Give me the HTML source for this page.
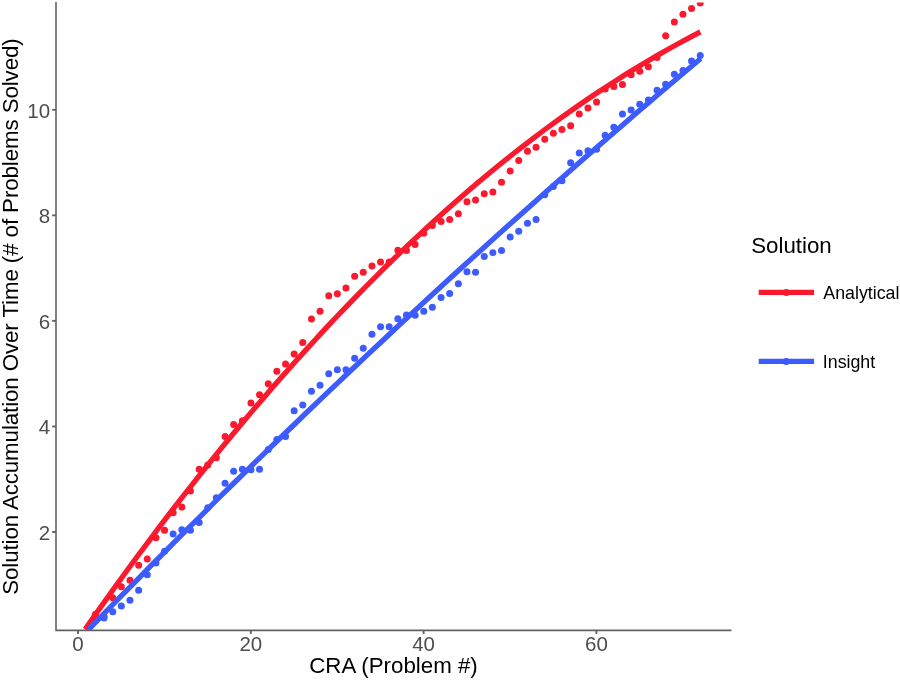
<!DOCTYPE html><html><head><meta charset="utf-8"><title>Solution Accumulation Over Time</title>
<style>html,body{margin:0;padding:0;background:#fff}svg{display:block;will-change:transform;opacity:.999;filter:blur(0.45px)}text{font-family:"Liberation Sans",Arial,sans-serif}</style></head><body>
<svg width="900" height="681" viewBox="0 0 900 681">
<rect width="900" height="681" fill="#fff"/>
<defs><clipPath id="pa"><rect x="56" y="2.4" width="676" height="628"/></clipPath></defs>
<g clip-path="url(#pa)"><g transform="translate(0.15,0.35)">
<g fill="#fb1a2d"><circle cx="86.6" cy="640.0" r="3.5"/><circle cx="95.3" cy="614.0" r="3.5"/><circle cx="103.9" cy="616.0" r="3.5"/><circle cx="112.6" cy="597.5" r="3.5"/><circle cx="121.2" cy="586.5" r="3.5"/><circle cx="129.8" cy="579.8" r="3.5"/><circle cx="138.5" cy="564.8" r="3.5"/><circle cx="147.1" cy="558.7" r="3.5"/><circle cx="155.8" cy="537.5" r="3.5"/><circle cx="164.4" cy="529.8" r="3.5"/><circle cx="173.0" cy="512.5" r="3.5"/><circle cx="181.7" cy="506.7" r="3.5"/><circle cx="190.3" cy="490.6" r="3.5"/><circle cx="199.0" cy="468.8" r="3.5"/><circle cx="207.6" cy="464.6" r="3.5"/><circle cx="216.2" cy="457.5" r="3.5"/><circle cx="224.9" cy="436.2" r="3.5"/><circle cx="233.5" cy="424.2" r="3.5"/><circle cx="242.2" cy="420.4" r="3.5"/><circle cx="250.8" cy="402.7" r="3.5"/><circle cx="259.4" cy="394.4" r="3.5"/><circle cx="268.1" cy="383.3" r="3.5"/><circle cx="276.7" cy="371.0" r="3.5"/><circle cx="285.4" cy="363.7" r="3.5"/><circle cx="294.0" cy="353.7" r="3.5"/><circle cx="302.6" cy="342.1" r="3.5"/><circle cx="311.3" cy="318.7" r="3.5"/><circle cx="319.9" cy="310.8" r="3.5"/><circle cx="328.6" cy="295.4" r="3.5"/><circle cx="337.2" cy="293.5" r="3.5"/><circle cx="345.8" cy="287.7" r="3.5"/><circle cx="354.5" cy="275.8" r="3.5"/><circle cx="363.1" cy="271.9" r="3.5"/><circle cx="371.8" cy="265.6" r="3.5"/><circle cx="380.4" cy="261.7" r="3.5"/><circle cx="389.0" cy="261.7" r="3.5"/><circle cx="397.7" cy="249.8" r="3.5"/><circle cx="406.3" cy="250.2" r="3.5"/><circle cx="415.0" cy="244.2" r="3.5"/><circle cx="423.6" cy="232.9" r="3.5"/><circle cx="432.2" cy="225.2" r="3.5"/><circle cx="440.9" cy="221.2" r="3.5"/><circle cx="449.5" cy="219.2" r="3.5"/><circle cx="458.2" cy="213.3" r="3.5"/><circle cx="466.8" cy="201.5" r="3.5"/><circle cx="475.4" cy="199.6" r="3.5"/><circle cx="484.1" cy="193.4" r="3.5"/><circle cx="492.7" cy="191.7" r="3.5"/><circle cx="501.4" cy="181.9" r="3.5"/><circle cx="510.0" cy="170.6" r="3.5"/><circle cx="518.6" cy="160.2" r="3.5"/><circle cx="527.3" cy="150.8" r="3.5"/><circle cx="535.9" cy="146.9" r="3.5"/><circle cx="544.6" cy="138.8" r="3.5"/><circle cx="553.2" cy="132.9" r="3.5"/><circle cx="561.8" cy="129.2" r="3.5"/><circle cx="570.5" cy="125.4" r="3.5"/><circle cx="579.1" cy="113.6" r="3.5"/><circle cx="587.8" cy="107.7" r="3.5"/><circle cx="596.4" cy="101.6" r="3.5"/><circle cx="605.0" cy="88.6" r="3.5"/><circle cx="613.7" cy="86.2" r="3.5"/><circle cx="622.3" cy="84.1" r="3.5"/><circle cx="631.0" cy="74.4" r="3.5"/><circle cx="639.6" cy="70.9" r="3.5"/><circle cx="648.2" cy="66.5" r="3.5"/><circle cx="656.9" cy="57.1" r="3.5"/><circle cx="665.5" cy="35.4" r="3.5"/><circle cx="674.2" cy="21.7" r="3.5"/><circle cx="682.8" cy="14.0" r="3.5"/><circle cx="691.4" cy="8.1" r="3.5"/><circle cx="700.1" cy="2.6" r="3.5"/></g>
<g fill="#3c5cff"><circle cx="86.6" cy="640.0" r="3.5"/><circle cx="95.3" cy="620.5" r="3.5"/><circle cx="103.9" cy="617.6" r="3.5"/><circle cx="112.6" cy="611.5" r="3.5"/><circle cx="121.2" cy="605.6" r="3.5"/><circle cx="129.8" cy="599.8" r="3.5"/><circle cx="138.5" cy="589.8" r="3.5"/><circle cx="147.1" cy="574.4" r="3.5"/><circle cx="155.8" cy="562.7" r="3.5"/><circle cx="164.4" cy="551.0" r="3.5"/><circle cx="173.0" cy="533.7" r="3.5"/><circle cx="181.7" cy="529.4" r="3.5"/><circle cx="190.3" cy="529.8" r="3.5"/><circle cx="199.0" cy="522.1" r="3.5"/><circle cx="207.6" cy="507.3" r="3.5"/><circle cx="216.2" cy="497.3" r="3.5"/><circle cx="224.9" cy="482.9" r="3.5"/><circle cx="233.5" cy="470.8" r="3.5"/><circle cx="242.2" cy="468.8" r="3.5"/><circle cx="250.8" cy="469.4" r="3.5"/><circle cx="259.4" cy="469.0" r="3.5"/><circle cx="268.1" cy="449.2" r="3.5"/><circle cx="276.7" cy="439.2" r="3.5"/><circle cx="285.4" cy="436.2" r="3.5"/><circle cx="294.0" cy="410.4" r="3.5"/><circle cx="302.6" cy="404.6" r="3.5"/><circle cx="311.3" cy="390.9" r="3.5"/><circle cx="319.9" cy="384.9" r="3.5"/><circle cx="328.6" cy="373.5" r="3.5"/><circle cx="337.2" cy="369.4" r="3.5"/><circle cx="345.8" cy="369.4" r="3.5"/><circle cx="354.5" cy="357.9" r="3.5"/><circle cx="363.1" cy="347.9" r="3.5"/><circle cx="371.8" cy="334.0" r="3.5"/><circle cx="380.4" cy="326.3" r="3.5"/><circle cx="389.0" cy="326.3" r="3.5"/><circle cx="397.7" cy="318.5" r="3.5"/><circle cx="406.3" cy="314.6" r="3.5"/><circle cx="415.0" cy="315.0" r="3.5"/><circle cx="423.6" cy="311.0" r="3.5"/><circle cx="432.2" cy="306.9" r="3.5"/><circle cx="440.9" cy="297.2" r="3.5"/><circle cx="449.5" cy="293.1" r="3.5"/><circle cx="458.2" cy="283.5" r="3.5"/><circle cx="466.8" cy="271.5" r="3.5"/><circle cx="475.4" cy="271.9" r="3.5"/><circle cx="484.1" cy="256.2" r="3.5"/><circle cx="492.7" cy="252.3" r="3.5"/><circle cx="501.4" cy="250.2" r="3.5"/><circle cx="510.0" cy="236.6" r="3.5"/><circle cx="518.6" cy="230.9" r="3.5"/><circle cx="527.3" cy="223.0" r="3.5"/><circle cx="535.9" cy="219.1" r="3.5"/><circle cx="544.6" cy="194.3" r="3.5"/><circle cx="553.2" cy="186.2" r="3.5"/><circle cx="561.8" cy="180.3" r="3.5"/><circle cx="570.5" cy="162.3" r="3.5"/><circle cx="579.1" cy="152.7" r="3.5"/><circle cx="587.8" cy="150.4" r="3.5"/><circle cx="596.4" cy="148.8" r="3.5"/><circle cx="605.0" cy="135.0" r="3.5"/><circle cx="613.7" cy="126.9" r="3.5"/><circle cx="622.3" cy="113.6" r="3.5"/><circle cx="631.0" cy="109.6" r="3.5"/><circle cx="639.6" cy="103.8" r="3.5"/><circle cx="648.2" cy="99.7" r="3.5"/><circle cx="656.9" cy="89.8" r="3.5"/><circle cx="665.5" cy="84.0" r="3.5"/><circle cx="674.2" cy="74.0" r="3.5"/><circle cx="682.8" cy="70.2" r="3.5"/><circle cx="691.4" cy="60.6" r="3.5"/><circle cx="700.1" cy="55.2" r="3.5"/></g>
<path d="M85.0,628.9 L95.4,614.0 L105.9,599.3 L116.3,584.7 L126.7,570.4 L137.1,556.2 L147.6,542.2 L158.0,528.3 L168.4,514.6 L178.8,501.1 L189.3,487.7 L199.7,474.5 L210.1,461.5 L220.6,448.6 L231.0,435.9 L241.4,423.4 L251.8,411.0 L262.3,398.8 L272.7,386.7 L283.1,374.8 L293.5,363.1 L304.0,351.5 L314.4,340.1 L324.8,328.8 L335.3,317.7 L345.7,306.8 L356.1,296.0 L366.5,285.4 L377.0,274.9 L387.4,264.6 L397.8,254.5 L408.2,244.6 L418.7,234.8 L429.1,225.1 L439.5,215.6 L449.9,206.3 L460.4,197.2 L470.8,188.2 L481.2,179.4 L491.7,170.7 L502.1,162.2 L512.5,153.9 L522.9,145.7 L533.4,137.7 L543.8,129.9 L554.2,122.2 L564.6,114.7 L575.1,107.4 L585.5,100.2 L595.9,93.2 L606.4,86.3 L616.8,79.6 L627.2,73.0 L637.6,66.7 L648.1,60.4 L658.5,54.3 L668.9,48.4 L679.3,42.7 L689.8,37.0 L700.2,31.6" fill="none" stroke="#fb1a2d" stroke-width="5.3"/>
<path d="M88.3,629.3 L98.7,618.6 L109.1,607.9 L119.4,597.3 L129.8,586.7 L140.2,576.2 L150.6,565.6 L160.9,555.2 L171.3,544.7 L181.7,534.3 L192.1,524.0 L202.5,513.7 L212.8,503.4 L223.2,493.1 L233.6,482.9 L244.0,472.7 L254.3,462.6 L264.7,452.5 L275.1,442.4 L285.5,432.4 L295.9,422.4 L306.2,412.4 L316.6,402.5 L327.0,392.6 L337.4,382.7 L347.7,372.9 L358.1,363.1 L368.5,353.3 L378.9,343.6 L389.3,333.9 L399.6,324.2 L410.0,314.6 L420.4,305.0 L430.8,295.4 L441.2,285.9 L451.5,276.4 L461.9,266.9 L472.3,257.5 L482.7,248.1 L493.0,238.8 L503.4,229.4 L513.8,220.1 L524.2,210.9 L534.6,201.6 L544.9,192.4 L555.3,183.2 L565.7,174.1 L576.1,165.0 L586.4,155.9 L596.8,146.9 L607.2,137.9 L617.6,128.9 L628.0,119.9 L638.3,111.0 L648.7,102.1 L659.1,93.2 L669.5,84.4 L679.8,75.6 L690.2,66.8 L700.6,58.1" fill="none" stroke="#3c5cff" stroke-width="5.3"/>
</g></g>
<g stroke="#626262" stroke-width="1.6" fill="none">
<path d="M56,2 V630.4 H731.5"/>
<path d="M52.2,531.95 H56" stroke-width="1.9"/>
<path d="M52.2,426.45 H56" stroke-width="1.9"/>
<path d="M52.2,320.85 H56" stroke-width="1.9"/>
<path d="M52.2,215.35 H56" stroke-width="1.9"/>
<path d="M52.2,109.85 H56" stroke-width="1.9"/>
<path d="M78.0,630.4 V633.9" stroke-width="1.9"/>
<path d="M250.8,630.4 V633.9" stroke-width="1.9"/>
<path d="M423.6,630.4 V633.9" stroke-width="1.9"/>
<path d="M596.4,630.4 V633.9" stroke-width="1.9"/>
</g>
<g fill="#4d4d4d" font-size="20.5">
<text x="50.1" y="539.6" text-anchor="end">2</text>
<text x="50.1" y="434.1" text-anchor="end">4</text>
<text x="50.1" y="328.5" text-anchor="end">6</text>
<text x="50.1" y="223.0" text-anchor="end">8</text>
<text x="50.1" y="117.5" text-anchor="end">10</text>
<text x="78.0" y="651.2" text-anchor="middle">0</text>
<text x="250.8" y="651.2" text-anchor="middle">20</text>
<text x="423.6" y="651.2" text-anchor="middle">40</text>
<text x="596.4" y="651.2" text-anchor="middle">60</text>
</g>
<text x="393.5" y="672.9" text-anchor="middle" font-size="22.3" fill="#000">CRA (Problem #)</text>
<text transform="translate(18.1,316.6) rotate(-90)" text-anchor="middle" font-size="22.3" letter-spacing="-0.092" fill="#000">Solution Accumulation Over Time (# of Problems Solved)</text>
<text x="751.2" y="252.8" font-size="22.3" fill="#000">Solution</text>
<path d="M758.7,292.4 H814.1" stroke="#fb1a2d" stroke-width="5.3" fill="none"/>
<circle cx="786.3" cy="292.4" r="3.5" fill="#fb1a2d"/>
<text x="823.3" y="298.6" font-size="17.8" fill="#000">Analytical</text>
<path d="M758.7,361.4 H814.1" stroke="#3c5cff" stroke-width="5.3" fill="none"/>
<circle cx="786.3" cy="361.4" r="3.5" fill="#3c5cff"/>
<text x="822.8" y="368.3" font-size="17.8" fill="#000">Insight</text>
</svg></body></html>
